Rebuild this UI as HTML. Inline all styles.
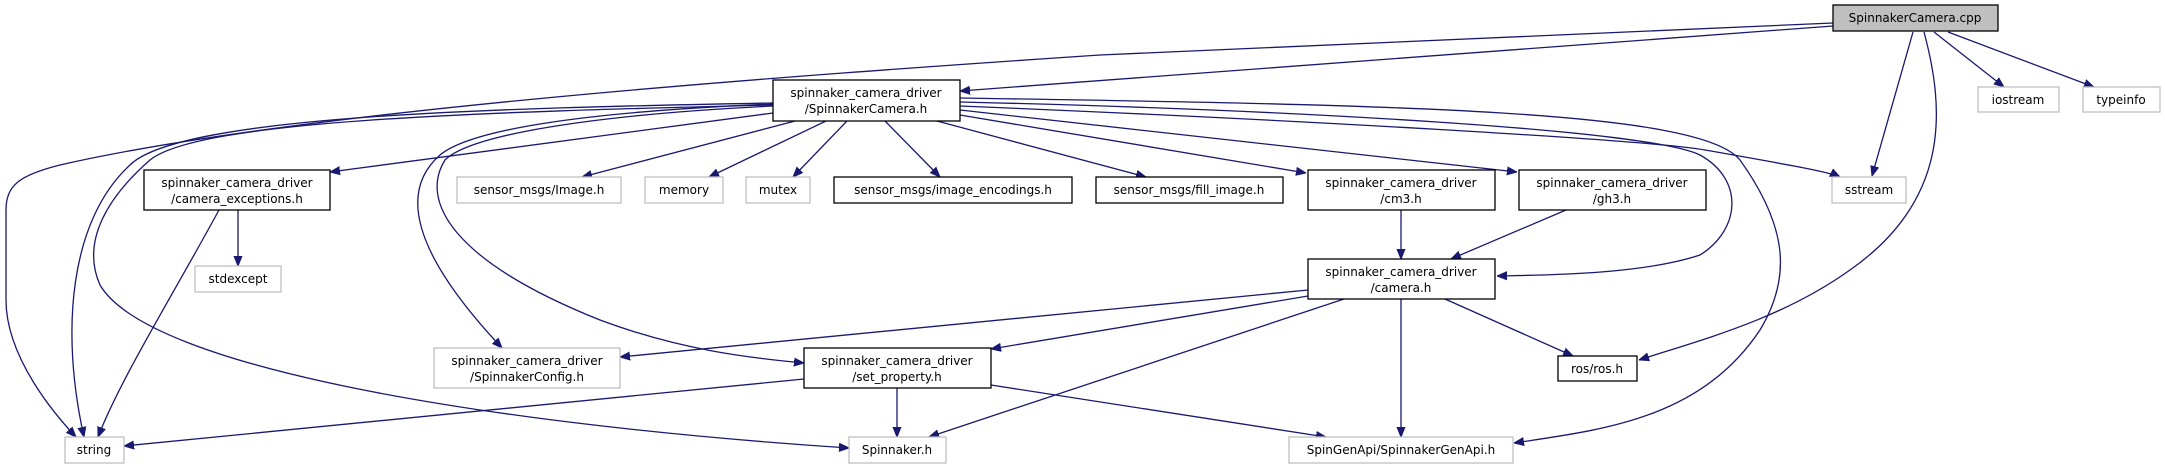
<!DOCTYPE html>
<html><head><meta charset="utf-8"><style>
html,body{margin:0;padding:0;background:#fff;}
svg{display:block;}
text{font-family:"DejaVu Sans","Liberation Sans",sans-serif;font-size:12px;fill:#000;}
.e{fill:none;stroke:#191970;stroke-width:1.3;}
.b{fill:#fff;stroke:#000;stroke-width:1.3;}
.g{fill:#fff;stroke:#bfbfbf;stroke-width:1.3;}
</style></head><body>
<svg width="2165" height="469" viewBox="0 0 2165 469" xmlns="http://www.w3.org/2000/svg">
<defs><marker id="a" viewBox="0 0 10 10" refX="10" refY="5" markerWidth="10" markerHeight="10" markerUnits="userSpaceOnUse" orient="auto"><path d="M0,1 L10,5 L0,9 z" fill="#191970" stroke="#191970"/></marker></defs>
<g marker-end="url(#a)">
<path class="e" d="M1833,26 L960,91"/>
<path class="e" d="M1833,23 L1100,55 C800,75 300,110 60,165 C20,175 6,185 6,210 L6,300 C6,360 60,420 76,437"/>
<path class="e" d="M1913,32 L1872,176"/>
<path class="e" d="M1934,32 L2004,87"/>
<path class="e" d="M1948,32 L2094,87"/>
<path class="e" d="M1924,32 C1945,110 1950,200 1850,270 C1780,320 1700,340 1639,360"/>
<path class="e" d="M773,103 C500,108 180,115 130,165 C70,220 60,330 84,437"/>
<path class="e" d="M773,105 C480,112 200,120 150,160 C110,195 80,240 100,285 C150,370 500,425 849,448"/>
<path class="e" d="M773,113 L330,172"/>
<path class="e" d="M773,104 C580,112 470,130 440,155 C400,190 410,250 502,348"/>
<path class="e" d="M773,106 C590,115 470,135 445,160 C420,200 450,260 600,320 C680,350 750,358 804,363"/>
<path class="e" d="M795,121 L582,177"/>
<path class="e" d="M826,121 L709,177"/>
<path class="e" d="M847,121 L793,177"/>
<path class="e" d="M885,121 L940,177"/>
<path class="e" d="M937,121 L1146,177"/>
<path class="e" d="M960,115 L1306,173"/>
<path class="e" d="M960,110 L1517,172"/>
<path class="e" d="M960,106 C1300,120 1650,140 1705,150 C1790,165 1830,172 1840,177"/>
<path class="e" d="M960,102 C1300,110 1650,130 1700,155 C1745,180 1740,230 1700,255 C1640,275 1540,275 1497,276"/>
<path class="e" d="M960,98 C1400,105 1700,110 1740,160 C1790,230 1790,280 1760,330 C1700,420 1600,430 1514,443"/>
<path class="e" d="M804,379 L124,446"/>
<path class="e" d="M897,388 L897,437"/>
<path class="e" d="M991,385 L1326,437"/>
<path class="e" d="M1308,290 L620,357"/>
<path class="e" d="M1308,296 L991,349"/>
<path class="e" d="M1344,299 L929,437"/>
<path class="e" d="M1401,299 L1401,437"/>
<path class="e" d="M1445,299 L1573,356"/>
<path class="e" d="M1401,210 L1401,259"/>
<path class="e" d="M1566,210 L1451,259"/>
<path class="e" d="M238,210 L238,266"/>
<path class="e" d="M219,210 C170,300 120,380 98,437"/>
</g>
<rect x="1833" y="5" width="165" height="26" fill="#bfbfbf" stroke="#000" stroke-width="1.3"/>
<text x="1915" y="22" text-anchor="middle">SpinnakerCamera.cpp</text>
<rect class="b" x="773" y="80" width="187" height="41"/>
<text x="866" y="97" text-anchor="middle">spinnaker_camera_driver</text>
<text x="866" y="113" text-anchor="middle">/SpinnakerCamera.h</text>
<rect class="g" x="1978" y="87" width="81" height="25"/><text x="2018" y="104" text-anchor="middle">iostream</text>
<rect class="g" x="2083" y="87" width="77" height="25"/><text x="2121" y="104" text-anchor="middle">typeinfo</text>
<rect class="b" x="144" y="170" width="186" height="40"/>
<text x="237" y="187" text-anchor="middle">spinnaker_camera_driver</text>
<text x="237" y="203" text-anchor="middle">/camera_exceptions.h</text>
<rect class="g" x="457" y="177" width="164" height="26"/><text x="539" y="194" text-anchor="middle">sensor_msgs/Image.h</text>
<rect class="g" x="645" y="177" width="78" height="26"/><text x="684" y="194" text-anchor="middle">memory</text>
<rect class="g" x="746" y="177" width="64" height="26"/><text x="778" y="194" text-anchor="middle">mutex</text>
<rect class="b" x="834" y="177" width="238" height="26"/><text x="953" y="194" text-anchor="middle">sensor_msgs/image_encodings.h</text>
<rect class="b" x="1096" y="177" width="187" height="26"/><text x="1189" y="194" text-anchor="middle">sensor_msgs/fill_image.h</text>
<rect class="b" x="1308" y="170" width="187" height="40"/>
<text x="1401" y="187" text-anchor="middle">spinnaker_camera_driver</text>
<text x="1401" y="203" text-anchor="middle">/cm3.h</text>
<rect class="b" x="1519" y="170" width="187" height="40"/>
<text x="1612" y="187" text-anchor="middle">spinnaker_camera_driver</text>
<text x="1612" y="203" text-anchor="middle">/gh3.h</text>
<rect class="g" x="1832" y="177" width="74" height="26"/><text x="1869" y="194" text-anchor="middle">sstream</text>
<rect class="g" x="195" y="266" width="86" height="26"/><text x="238" y="283" text-anchor="middle">stdexcept</text>
<rect class="b" x="1308" y="259" width="187" height="40"/>
<text x="1401" y="276" text-anchor="middle">spinnaker_camera_driver</text>
<text x="1401" y="292" text-anchor="middle">/camera.h</text>
<rect class="g" x="434" y="348" width="186" height="40"/>
<text x="527" y="365" text-anchor="middle">spinnaker_camera_driver</text>
<text x="527" y="381" text-anchor="middle">/SpinnakerConfig.h</text>
<rect class="b" x="804" y="348" width="187" height="40"/>
<text x="897" y="365" text-anchor="middle">spinnaker_camera_driver</text>
<text x="897" y="381" text-anchor="middle">/set_property.h</text>
<rect class="b" x="1558" y="356" width="79" height="25"/><text x="1597" y="373" text-anchor="middle">ros/ros.h</text>
<rect class="g" x="65" y="437" width="59" height="26"/><text x="94" y="454" text-anchor="middle">string</text>
<rect class="g" x="849" y="437" width="97" height="26"/><text x="897" y="454" text-anchor="middle">Spinnaker.h</text>
<rect class="g" x="1289" y="437" width="224" height="26"/><text x="1401" y="454" text-anchor="middle">SpinGenApi/SpinnakerGenApi.h</text>
</svg>
</body></html>
